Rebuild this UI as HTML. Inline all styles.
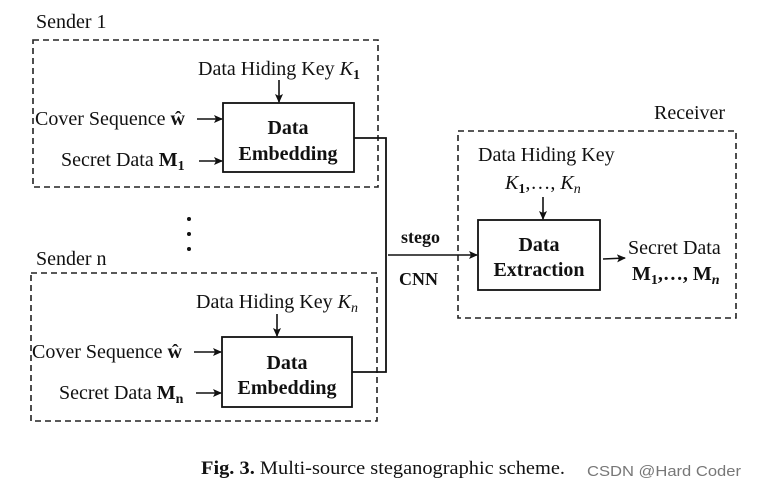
<!DOCTYPE html>
<html><head><meta charset="utf-8"><style>
body{margin:0;background:#fff}
svg{display:block}
text{font-family:"Liberation Serif",serif;fill:#111}
.b{font-weight:bold}
</style></head><body>
<svg width="757" height="488" viewBox="0 0 757 488" xmlns="http://www.w3.org/2000/svg">
<defs><marker id="a" markerWidth="9" markerHeight="8" refX="8" refY="4" orient="auto" markerUnits="userSpaceOnUse"><path d="M0,0 L9,4 L0,8 L2,4 Z" fill="#111"/></marker></defs>
<g fill="none" stroke="#222" stroke-width="1.6" stroke-dasharray="6,4">
<rect x="33" y="40" width="345" height="147"/>
<rect x="31" y="273" width="346" height="148"/>
<rect x="458" y="131" width="278" height="187"/>
</g>
<g fill="none" stroke="#111" stroke-width="1.8">
<rect x="223" y="103" width="131" height="69"/>
<rect x="222" y="337" width="130" height="70"/>
<rect x="478" y="220" width="122" height="70"/>
<polyline points="354,138 386,138 386,372 352,372"/>
</g>
<g stroke="#111" stroke-width="1.6" marker-end="url(#a)">
<line x1="279" y1="80" x2="279" y2="102"/>
<line x1="197" y1="119" x2="222" y2="119"/>
<line x1="199" y1="161" x2="222" y2="161"/>
<line x1="277" y1="314" x2="277" y2="336"/>
<line x1="194" y1="352" x2="221" y2="352"/>
<line x1="196" y1="393" x2="221" y2="393"/>
<line x1="543" y1="197" x2="543" y2="219"/>
<line x1="388" y1="255" x2="477" y2="255"/>
<line x1="603" y1="259" x2="625" y2="258"/>
</g>
<g fill="#111"><circle cx="189" cy="219" r="2"/><circle cx="189" cy="234" r="2"/><circle cx="189" cy="249" r="2"/></g>
<text x="36" y="28" font-size="20">Sender 1</text>
<text x="198" y="75" font-size="20">Data Hiding Key <tspan font-style="italic">K</tspan><tspan font-size="14" font-weight="bold" dy="4">1</tspan></text>
<text x="35" y="125" font-size="20">Cover Sequence <tspan class="b">ŵ</tspan></text>
<text x="61" y="166" font-size="20">Secret Data <tspan class="b">M</tspan><tspan class="b" font-size="14" dy="4">1</tspan></text>
<text x="288" y="134" font-size="20" class="b" text-anchor="middle">Data</text>
<text x="288" y="160" font-size="20" class="b" text-anchor="middle">Embedding</text>
<text x="36" y="265" font-size="20">Sender n</text>
<text x="196" y="308" font-size="20">Data Hiding Key <tspan font-style="italic">K</tspan><tspan font-size="14" font-style="italic" dy="4">n</tspan></text>
<text x="32" y="358" font-size="20">Cover Sequence <tspan class="b">ŵ</tspan></text>
<text x="59" y="399" font-size="20">Secret Data <tspan class="b">M</tspan><tspan class="b" font-size="14" dy="4">n</tspan></text>
<text x="287" y="369" font-size="20" class="b" text-anchor="middle">Data</text>
<text x="287" y="394" font-size="20" class="b" text-anchor="middle">Embedding</text>
<text x="654" y="119" font-size="20">Receiver</text>
<text x="478" y="161" font-size="20">Data Hiding Key</text>
<text x="505" y="189" font-size="20"><tspan font-style="italic">K</tspan><tspan font-size="14" font-weight="bold" dy="4">1</tspan><tspan dy="-4">,…, </tspan><tspan font-style="italic">K</tspan><tspan font-size="14" font-style="italic" dy="4">n</tspan></text>
<text x="539" y="251" font-size="20" class="b" text-anchor="middle">Data</text>
<text x="539" y="276" font-size="20" class="b" text-anchor="middle">Extraction</text>
<text x="628" y="254" font-size="20">Secret Data</text>
<text x="632" y="280" font-size="20" class="b">M<tspan font-size="14" dy="4">1</tspan><tspan dy="-4">,…, M</tspan><tspan font-size="14" font-style="italic" dy="4">n</tspan></text>
<text x="401" y="243" font-size="18" class="b">stego</text>
<text x="399" y="285" font-size="18" class="b">CNN</text>
<text x="201" y="474" font-size="19" textLength="364" lengthAdjust="spacingAndGlyphs"><tspan class="b">Fig. 3.</tspan> Multi-source steganographic scheme.</text>
<text x="587" y="476" font-size="15" textLength="154" lengthAdjust="spacingAndGlyphs" style="font-family:'Liberation Sans',sans-serif;fill:#777">CSDN @Hard Coder</text>
</svg>
</body></html>
